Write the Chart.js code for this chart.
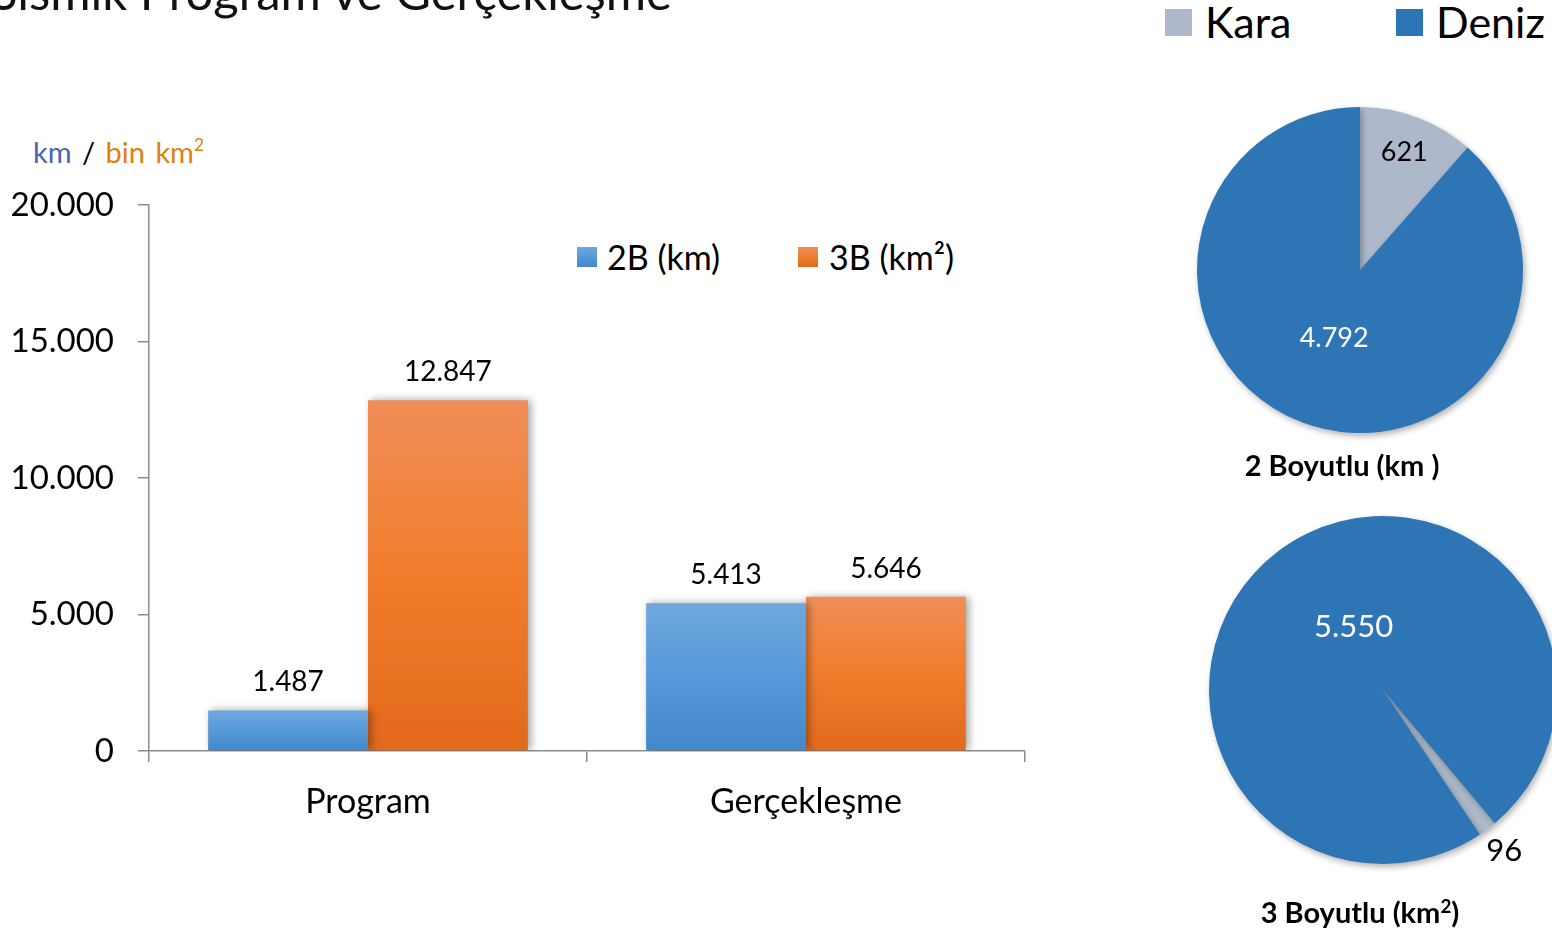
<!DOCTYPE html>
<html>
<head>
<meta charset="utf-8">
<script src="https://cdn.jsdelivr.net/npm/chart.js@4"></script>
<style>
  html, body { margin: 0; padding: 0; background: #fff; }
  body { width: 1552px; height: 930px; position: relative; overflow: hidden; font-family: Lato, "Noto Sans", sans-serif; color: #000; }
  canvas { position: absolute; }
  .txt { position: absolute; white-space: nowrap; line-height: 1; }
  .sq { position: absolute; }
</style>
</head>
<body>
<div class="txt" id="title" style="right:880px; top:-33px; font-size:49px; color:#111;">Sismik Program ve Gerçekleşme</div>

<div class="txt" style="left:33px; top:136px; font-size:29px; word-spacing:3px;">
  <span style="color:#4A66AC;">km</span> <span>/</span> <span style="color:#E0800F;">bin km<sup style="font-size:0.6em; vertical-align:0.7em;">2</sup></span>
</div>

<!-- bar legend -->
<div class="sq" id="sq2B" style="left:577px; top:247px; width:20px; height:20px;"></div>
<div class="txt" style="left:607px; top:240px; font-size:34px;">2B (km)</div>
<div class="sq" id="sq3B" style="left:798px; top:247px; width:20px; height:20px;"></div>
<div class="txt" style="left:829px; top:240px; font-size:34px;">3B (km²)</div>

<!-- pie legend -->
<div class="sq" id="sqKara" style="left:1165px; top:9px; width:27px; height:27px;"></div>
<div class="txt" style="left:1205px; top:0px; font-size:43px;">Kara</div>
<div class="sq" id="sqDeniz" style="left:1396px; top:9px; width:27px; height:27px;"></div>
<div class="txt" style="left:1436px; top:0px; font-size:43px;">Deniz</div>

<canvas id="barChart" width="1100" height="930" style="left:0; top:0;"></canvas>
<canvas id="pie2B" width="366" height="366" style="left:1177px; top:87px;"></canvas>
<canvas id="pie3B" width="428" height="428" style="left:1169px; top:476px;"></canvas>

<div class="txt" style="left:1342px; top:450px; transform:translateX(-50%); font-size:29px; font-weight:bold;">2 Boyutlu (km )</div>
<div class="txt" style="left:1360px; top:897px; transform:translateX(-50%); font-size:29px; font-weight:bold;">3 Boyutlu (km<sup style="font-size:0.65em; vertical-align:0.55em;">2</sup>)</div>

<script>
const categories = ['Program', 'Gerçekleşme'];
const values2B = [1487, 5413];
const values3B = [12847, 5646];
const yTicks = [0, 5000, 10000, 15000, 20000];

const pieCategories = ['Kara', 'Deniz'];
const pie2BValues = [621, 4792];
const pie3BValues = [96, 5550];

const FONT = 'Lato, "Noto Sans", sans-serif';
const axisColor = '#8c8c8c';
const blueStops = ['#70A7DD', '#5599DA', '#4388CB'];
const orangeStops = ['#F08E58', '#F07D2C', '#E3691B'];
const karaColor = '#ADB9CA';
const denizColor = '#2E75B6';

function fmt(v) {
    return String(v).replace(/\B(?=(\d{3})+(?!\d))/g, '.');
}

function cssGradient(stops) {
    return `linear-gradient(to bottom, ${stops[0]}, ${stops[1]}, ${stops[2]})`;
}

document.getElementById('sq2B').style.background = cssGradient(blueStops);
document.getElementById('sq3B').style.background = cssGradient(orangeStops);
document.getElementById('sqKara').style.background = karaColor;
document.getElementById('sqDeniz').style.background = denizColor;

function barGradient(stops) {
    return (context) => {
        const chart = context.chart;
        const y = chart.scales.y;
        if (!chart.chartArea || !y || context.raw == null) return stops[1];
        const top = y.getPixelForValue(context.raw);
        const bottom = y.getPixelForValue(0);
        const g = chart.ctx.createLinearGradient(0, top, 0, bottom);
        g.addColorStop(0, stops[0]);
        g.addColorStop(0.5, stops[1]);
        g.addColorStop(1, stops[2]);
        return g;
    };
}

const shadowPlugin = {
    id: 'shadow',
    beforeDatasetsDraw(chart, args, opts) {
        const c = chart.ctx;
        c.save();
        c.shadowColor = opts.color || 'rgba(0,0,0,0.35)';
        c.shadowBlur = opts.blur || 8;
        c.shadowOffsetX = opts.x || 0;
        c.shadowOffsetY = opts.y || 0;
    },
    afterDatasetsDraw(chart) {
        chart.ctx.restore();
    }
};

const barLabels = {
    id: 'barLabels',
    afterDraw(chart) {
        const c = chart.ctx;
        c.save();
        c.font = `28px ${FONT}`;
        c.fillStyle = '#000';
        c.textAlign = 'center';
        c.textBaseline = 'middle';
        chart.data.datasets.forEach((ds, i) => {
            chart.getDatasetMeta(i).data.forEach((bar, j) => {
                c.fillText(fmt(ds.data[j]), bar.x, bar.y - 28);
            });
        });
        c.restore();
    }
};

const pieLabels = {
    id: 'pieLabels',
    afterDraw(chart, args, opts) {
        const c = chart.ctx;
        const meta = chart.getDatasetMeta(0);
        const data = chart.data.datasets[0].data;
        c.save();
        c.textAlign = 'center';
        c.textBaseline = 'middle';
        meta.data.forEach((arc, i) => {
            const mid = (arc.startAngle + arc.endAngle) / 2 + (opts.shift[i] || 0) * Math.PI / 180;
            const r = arc.outerRadius * opts.radius[i];
            c.font = `${opts.size[i]}px ${FONT}`;
            c.fillStyle = opts.color[i];
            c.fillText(fmt(data[i]), arc.x + Math.cos(mid) * r, arc.y + Math.sin(mid) * r);
        });
        c.restore();
    }
};

new Chart(document.getElementById('barChart'), {
    type: 'bar',
    data: {
        labels: categories,
        datasets: [
            { label: '2B (km)', data: values2B, backgroundColor: barGradient(blueStops), borderWidth: 0 },
            { label: '3B (km²)', data: values3B, backgroundColor: barGradient(orangeStops), borderWidth: 0 }
        ]
    },
    options: {
        responsive: false,
        animation: false,
        events: [],
        layout: { padding: { top: 205, right: 75, left: 0, bottom: 0 } },
        datasets: { bar: { categoryPercentage: 0.73, barPercentage: 1 } },
        plugins: {
            legend: { display: false },
            tooltip: { enabled: false },
            shadow: { color: 'rgba(0,0,0,0.35)', blur: 8, x: 3, y: 0 }
        },
        scales: {
            x: {
                afterFit(scale) { scale.height = 930 - 751; },
                grid: { display: true, offset: true, drawOnChartArea: false, drawTicks: true, tickLength: 11, color: axisColor, lineWidth: 1.5 },
                border: { display: true, color: axisColor, width: 1.5 },
                ticks: { color: '#000', font: { family: FONT, size: 34 }, padding: 20 }
            },
            y: {
                min: 0,
                max: 20000,
                afterFit(scale) { scale.width = 149; },
                afterBuildTicks(scale) { scale.ticks = yTicks.map(v => ({ value: v })); },
                grid: { display: true, drawOnChartArea: false, drawTicks: true, tickLength: 11, color: axisColor, lineWidth: 1.5 },
                border: { display: true, color: axisColor, width: 1.5 },
                ticks: { color: '#000', font: { family: FONT, size: 33 }, padding: 24, callback: (v) => fmt(v) }
            }
        }
    },
    plugins: [shadowPlugin, barLabels]
});

function makePie(id, values, rotation, padding, labelOpts) {
    new Chart(document.getElementById(id), {
        type: 'pie',
        data: {
            labels: pieCategories,
            datasets: [{ data: values, backgroundColor: [karaColor, denizColor], borderWidth: 0 }]
        },
        options: {
            responsive: false,
            animation: false,
            events: [],
            rotation: rotation,
            layout: { padding: padding },
            plugins: {
                legend: { display: false },
                tooltip: { enabled: false },
                shadow: { color: 'rgba(0,0,0,0.3)', blur: 6, x: 2, y: 3 },
                pieLabels: labelOpts
            }
        },
        plugins: [shadowPlugin, pieLabels]
    });
}

makePie('pie2B', pie2BValues, 0, 20, { radius: [0.77, 0.45], size: [27, 27], color: ['#000', '#fff'], shift: [0, 0] });
makePie('pie3B', pie3BValues, 140, 40, { radius: [1.16, 0.4], size: [31, 31], color: ['#000', '#fff'], shift: [0, 12] });
</script>
</body>
</html>
